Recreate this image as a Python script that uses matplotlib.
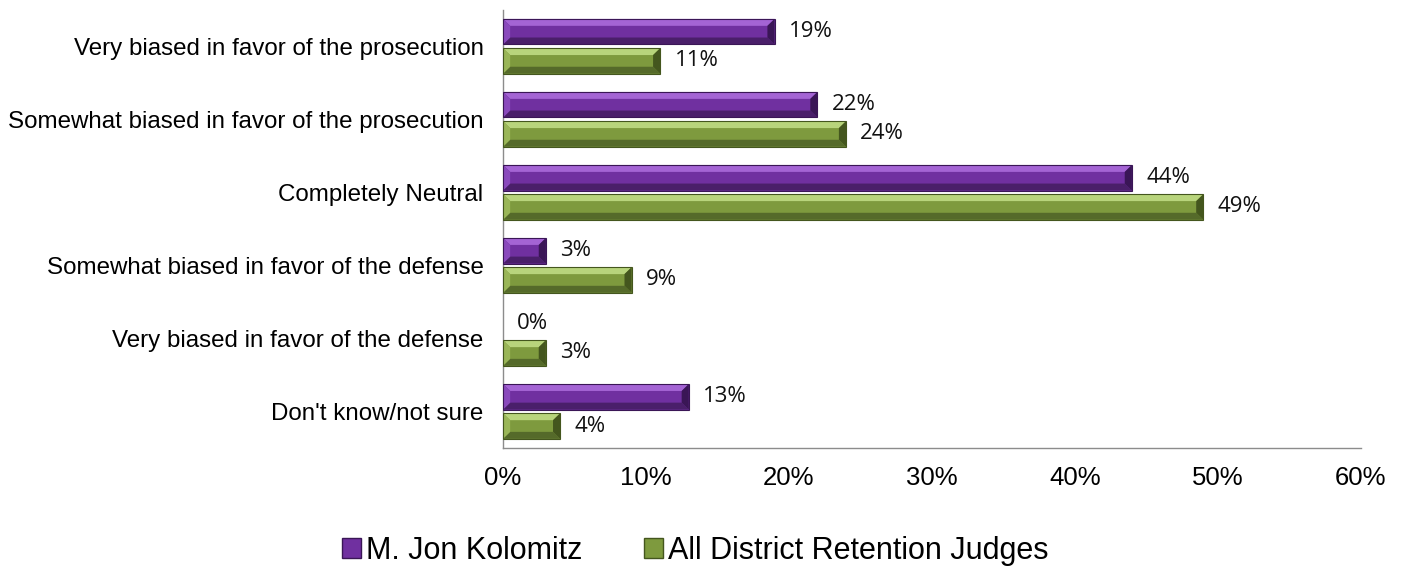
import numpy as np
import matplotlib.pyplot as plt
from matplotlib.patches import Polygon, Patch

# ======================== данные ========================
categories = [
    "Very biased in favor of the prosecution",
    "Somewhat biased in favor of the prosecution",
    "Completely Neutral",
    "Somewhat biased in favor of the defense",
    "Very biased in favor of the defense",
    "Don't know/not sure",
]
kolomitz = [19, 22, 44, 3, 0, 13]
all_judges = [11, 24, 49, 9, 3, 4]
series_names = ["M. Jon Kolomitz", "All District Retention Judges"]
x_ticks = [0, 10, 20, 30, 40, 50, 60]

# цвета: основная грань, верх, низ, левый торец, правый торец
purple = dict(face='#7030A0', top='#A464D4', bottom='#4A1F6A', left='#8A4ABC', right='#3A1656')
green = dict(face='#7E9A3E', top='#B8D47C', bottom='#556A2A', left='#9AB658', right='#44561E')


def bevel(ax, patch, c, bx=0.5, by=0.095):
    # рисуем "объёмную" рамку поверх обычного столбца
    x0, y0 = patch.get_x(), patch.get_y()
    w, h = patch.get_width(), patch.get_height()
    if w < 2 * bx:
        return
    x1, y1 = x0 + w, y0 + h
    ix0, ix1, iy0, iy1 = x0 + bx, x1 - bx, y0 + by, y1 - by
    polys = [
        ([(x0, y0), (x1, y0), (ix1, iy0), (ix0, iy0)], c['top']),
        ([(x0, y1), (x1, y1), (ix1, iy1), (ix0, iy1)], c['bottom']),
        ([(x0, y0), (ix0, iy0), (ix0, iy1), (x0, y1)], c['left']),
        ([(x1, y0), (ix1, iy0), (ix1, iy1), (x1, y1)], c['right']),
    ]
    for pts, col in polys:
        ax.add_patch(Polygon(pts, closed=True, facecolor=col, edgecolor='none', zorder=3))
    ax.add_patch(Polygon([(x0, y0), (x1, y0), (x1, y1), (x0, y1)], closed=True,
                         facecolor='none', edgecolor=c['right'], linewidth=0.8, zorder=4))


fig = plt.figure(figsize=(14.07, 5.75), dpi=100)
ax = fig.add_axes([0.3575, 0.221, 0.6095, 0.762])

y = np.arange(len(categories))
h = 0.35
off = 0.2

bars1 = ax.barh(y - off, kolomitz, height=h, color=purple['face'], zorder=2)
bars2 = ax.barh(y + off, all_judges, height=h, color=green['face'], zorder=2)

for b in bars1:
    bevel(ax, b, purple)
for b in bars2:
    bevel(ax, b, green)

lab_font = ['Open Sans', 'DejaVu Sans']
arial = ['Liberation Sans', 'DejaVu Sans']
for b, v in zip(bars1, kolomitz):
    ax.text(b.get_width() + 1.0, b.get_y() + b.get_height() / 2, f"{v}%",
            va='center', ha='left', fontsize=16, family=lab_font, color='#111111')
for b, v in zip(bars2, all_judges):
    ax.text(b.get_width() + 1.0, b.get_y() + b.get_height() / 2, f"{v}%",
            va='center', ha='left', fontsize=16, family=lab_font, color='#111111')

ax.set_xlim(0, 60)
ax.set_ylim(len(categories) - 0.5, -0.5)
ax.set_xticks(x_ticks)
ax.set_xticklabels([f"{t}%" for t in x_ticks], fontsize=18.5, family=arial)
ax.set_yticks(y)
ax.set_yticklabels(categories, fontsize=17.4, family=arial)
ax.tick_params(axis='both', length=0)
ax.tick_params(axis='x', pad=13)
ax.tick_params(axis='y', pad=14)

for s in ['top', 'right']:
    ax.spines[s].set_visible(False)
for s in ['left', 'bottom']:
    ax.spines[s].set_color('#8C8C8C')
    ax.spines[s].set_linewidth(1.0)

handles = [Patch(facecolor=purple['face'], edgecolor=purple['right']),
           Patch(facecolor=green['face'], edgecolor=green['right'])]
fig.legend(handles, series_names, loc='center', bbox_to_anchor=(0.494, 0.042),
           ncol=2, frameon=False, handlelength=0.65, handleheight=0.65,
           handletextpad=0.15, columnspacing=2.0,
           prop={'family': arial, 'size': 22})

plt.savefig('out.png', dpi=100)
